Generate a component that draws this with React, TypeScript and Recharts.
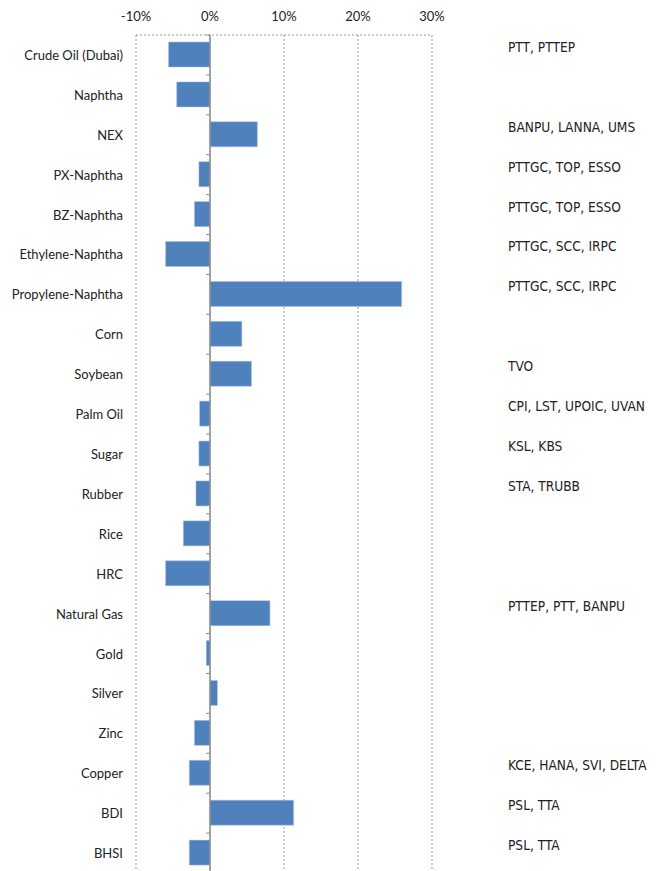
import { Bar, BarChart, CartesianGrid, ReferenceLine, XAxis, YAxis } from "recharts";

const categories = [
  "Crude Oil (Dubai)", "Naphtha", "NEX", "PX-Naphtha", "BZ-Naphtha", "Ethylene-Naphtha",
  "Propylene-Naphtha", "Corn", "Soybean", "Palm Oil", "Sugar", "Rubber", "Rice", "HRC",
  "Natural Gas", "Gold", "Silver", "Zinc", "Copper", "BDI", "BHSI",
];
const changes = [
  -5.6, -4.5, 6.4, -1.5, -2.1, -6.0,
  25.9, 4.3, 5.6, -1.4, -1.5, -1.9, -3.6, -6.0,
  8.1, -0.5, 1.0, -2.1, -2.8, 11.3, -2.8,
];
const stocks = [
  "PTT, PTTEP", "", "BANPU, LANNA, UMS", "PTTGC, TOP, ESSO", "PTTGC, TOP, ESSO", "PTTGC, SCC, IRPC",
  "PTTGC, SCC, IRPC", "", "TVO", "CPI, LST, UPOIC, UVAN", "KSL, KBS", "STA, TRUBB", "", "",
  "PTTEP, PTT, BANPU", "", "", "", "KCE, HANA, SVI, DELTA", "PSL, TTA", "PSL, TTA",
];
const xTicks = [-10, 0, 10, 20, 30];

const data = categories.map((name, i) => ({ name, change: changes[i], stock: stocks[i] }));
const stockOf: Record<string, string> = Object.fromEntries(categories.map((c, i) => [c, stocks[i]]));

const labelFont = "Lato, 'Open Sans', sans-serif";
const noteFont = "'DejaVu Sans Condensed', 'DejaVu Sans', sans-serif";

function LeftTick({ x, y, payload }: any) {
  return (
    <text x={x} y={y} dy={5} textAnchor="end" fontSize={13} fontFamily={labelFont} fill="#222">
      {payload.value}
    </text>
  );
}

function RightTick({ x, y, payload }: any) {
  return (
    <text x={x} y={y} dy={-3} textAnchor="start" fontSize={13.6} fontFamily={noteFont} fill="#222">
      {stockOf[payload.value]}
    </text>
  );
}

function ZeroAxis({ x1, y1, y2 }: any) {
  const step = (y2 - y1) / categories.length;
  return (
    <g>
      <line x1={x1} y1={y1} x2={x1} y2={y2} stroke="#8c8c8c" strokeWidth={1.5} />
      {categories.map((_, i) => (
        <line key={i} x1={x1 - 4} y1={y1 + i * step} x2={x1} y2={y1 + i * step} stroke="#8c8c8c" strokeWidth={1} />
      ))}
    </g>
  );
}

export default function App() {
  return (
    <div style={{ position: "absolute", left: 0, top: 0, width: 659, height: 871, overflow: "hidden", background: "#fff" }}>
      <BarChart
        width={659}
        height={880}
        data={data}
        layout="vertical"
        margin={{ top: 0, right: 0, bottom: 7, left: 0 }}
      >
        <CartesianGrid
          stroke="#9a9a9a"
          strokeDasharray="2 2"
          vertical
          horizontalCoordinatesGenerator={({ offset }: any) => [offset.top]}
        />
        <XAxis
          type="number"
          orientation="top"
          domain={[-10, 30]}
          ticks={xTicks}
          tickFormatter={(v: number) => `${v}%`}
          axisLine={false}
          tickLine={false}
          tickMargin={8}
          height={35}
          tick={{ fill: "#222", fontSize: 13, fontFamily: labelFont }}
        />
        <YAxis
          yAxisId="left"
          type="category"
          dataKey="name"
          width={136}
          axisLine={false}
          tickLine={false}
          tickMargin={7}
          interval={0}
          tick={<LeftTick />}
        />
        <YAxis
          yAxisId="right"
          orientation="right"
          type="category"
          dataKey="name"
          width={227}
          axisLine={false}
          tickLine={false}
          tickMargin={70}
          interval={0}
          tick={<RightTick />}
        />
        <Bar yAxisId="left" dataKey="change" fill="#4f81bd" stroke="#a9c1e0" strokeWidth={0.5} barSize={25} isAnimationActive={false} />
        <ReferenceLine yAxisId="left" x={0} shape={<ZeroAxis />} />
      </BarChart>
    </div>
  );
}
